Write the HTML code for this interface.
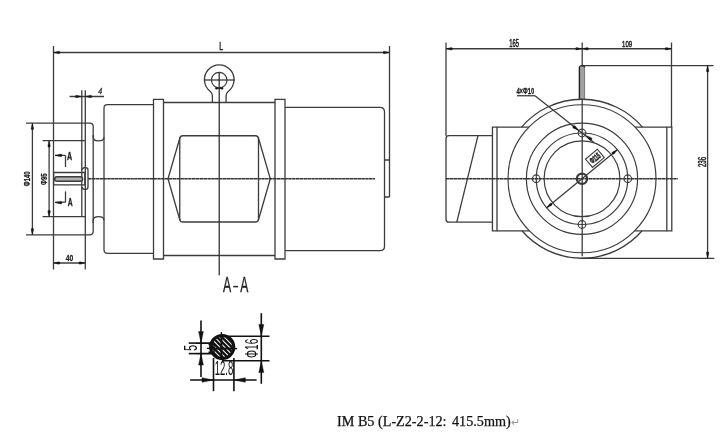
<!DOCTYPE html>
<html><head><meta charset="utf-8"><style>
html,body{margin:0;padding:0;background:#fff;}
body{width:728px;height:442px;overflow:hidden;font-family:"Liberation Sans",sans-serif;}
svg{display:block;will-change:transform;}
</style></head><body>
<svg width="728" height="442" viewBox="0 0 728 442">
<rect width="728" height="442" fill="#fff"/>
<line x1="53.5" y1="46" x2="53.5" y2="269.5" stroke="#3c3c3c" stroke-width="1.3" />
<line x1="389.5" y1="46" x2="389.5" y2="197" stroke="#3c3c3c" stroke-width="1.3" />
<line x1="53.5" y1="52.5" x2="389.5" y2="52.5" stroke="#3c3c3c" stroke-width="1.3" />
<path d="M53.50,52.50 L58.70,51.20 A1.3,1.3 0 1 1 58.70,53.80 Z" fill="#151515" stroke="#151515" stroke-width="0.3"/>
<path d="M389.50,52.50 L384.30,53.80 A1.3,1.3 0 1 1 384.30,51.20 Z" fill="#151515" stroke="#151515" stroke-width="0.3"/>
<text transform="translate(219.336,50.400) scale(0.07045,0.10580)" font-family="Liberation Sans" font-size="100" font-weight="normal" font-style="normal" fill="#222" stroke="#222" stroke-width="4.26" stroke-linejoin="round" >L</text>
<line x1="81.8" y1="90.3" x2="81.8" y2="216.7" stroke="#3c3c3c" stroke-width="1.3" />
<line x1="85.3" y1="90.3" x2="85.3" y2="269.5" stroke="#3c3c3c" stroke-width="1.3" />
<line x1="69.6" y1="96.5" x2="104" y2="96.5" stroke="#3c3c3c" stroke-width="1.3" />
<path d="M81.80,96.50 L76.60,97.80 A1.3,1.3 0 1 1 76.60,95.20 Z" fill="#151515" stroke="#151515" stroke-width="0.3"/>
<path d="M85.30,96.50 L90.50,95.20 A1.3,1.3 0 1 1 90.50,97.80 Z" fill="#151515" stroke="#151515" stroke-width="0.3"/>
<text transform="translate(98.329,94.193) scale(0.07059,0.09265)" font-family="Liberation Sans" font-size="100" font-weight="normal" font-style="italic" fill="#222" stroke="#222" stroke-width="3.54" stroke-linejoin="round" >4</text>
<path d="M26,123.2 L89.7,123.2 Q93.2,123.2 93.2,126.7 L93.2,231.3 Q93.2,234.8 89.7,234.8 L26,234.8" stroke="#3c3c3c" stroke-width="1.3" fill="none" />
<path d="M93.2,135 L93.2,137.2 C93.2,142 104,142 104,137.2" stroke="#3c3c3c" stroke-width="1.3" fill="none" />
<path d="M93.2,223 L93.2,220.3 C93.2,215.5 104,215.5 104,220.3" stroke="#3c3c3c" stroke-width="1.3" fill="none" />
<path d="M153.5,104.7 L107.5,104.7 Q104,104.7 104,108.2 L104,249.8 Q104,253.3 107.5,253.3 L153.5,253.3" stroke="#3c3c3c" stroke-width="1.3" fill="none" />
<path d="M153.5,99.3 L163.5,99.3 L163.5,259 L153.5,259 Z" stroke="#3c3c3c" stroke-width="1.3" fill="none" />
<line x1="163.5" y1="102.5" x2="275" y2="102.5" stroke="#3c3c3c" stroke-width="1.3" />
<line x1="163.5" y1="255.5" x2="275" y2="255.5" stroke="#3c3c3c" stroke-width="1.3" />
<path d="M275,99.3 L285,99.3 L285,259 L275,259 Z" stroke="#3c3c3c" stroke-width="1.3" fill="none" />
<path d="M285,107.4 L380,107.4 Q384.5,107.4 384.5,111.9 L384.5,246.2 Q384.5,250.7 380,250.7 L285,250.7" stroke="#3c3c3c" stroke-width="1.3" fill="none" />
<path d="M384.5,160 L389.5,160 M384.5,197 L389.5,197" stroke="#3c3c3c" stroke-width="1.3" fill="none" />
<path d="M179.75,139 Q179.75,135.75 183,135.75 L255.25,135.75 Q258.5,135.75 258.5,139 L258.5,218.75 Q258.5,222 255.25,222 L183,222 Q179.75,222 179.75,218.75 Z" stroke="#3c3c3c" stroke-width="1.3" fill="none" />
<path d="M180,137.5 L168,178.75 L180,220.5" stroke="#3c3c3c" stroke-width="1.3" fill="none" />
<path d="M258.3,137.5 L270.3,178.75 L258.3,220.5" stroke="#3c3c3c" stroke-width="1.3" fill="none" />
<circle cx="219.2" cy="80.1" r="7.8" stroke="#3c3c3c" stroke-width="1.2" fill="none"/>
<path d="M212.4,102.4 L212.4,95.8 Q212.4,93.3 210.6,91.7 A14.8,14.8 0 1 1 227.9,91.7 Q226.1,93.3 226.1,95.8 L226.1,102.4" stroke="#3c3c3c" stroke-width="1.3" fill="none" />
<line x1="203.8" y1="80" x2="235" y2="80" stroke="#3c3c3c" stroke-width="1.3" />
<line x1="219.2" y1="72.4" x2="219.2" y2="275.2" stroke="#2a2a2a" stroke-width="1.25" />
<path d="M219.20,88.30 L216.30,89.40 A1.1,1.1 0 1 1 216.30,87.20 Z" fill="#151515" stroke="#151515" stroke-width="0.3"/>
<path d="M219.20,88.30 L222.10,87.20 A1.1,1.1 0 1 1 222.10,89.40 Z" fill="#151515" stroke="#151515" stroke-width="0.3"/>
<line x1="88" y1="178.75" x2="375" y2="178.75" stroke="#333" stroke-width="1.3" stroke-dasharray="3.5 0.35"/>
<path d="M53.6,172.5 L84.8,172.5 L84.8,184.9 L53.6,184.9 Z" stroke="#3c3c3c" stroke-width="1.3" fill="none" />
<path d="M57,176.7 L80.3,176.7 A2.3,2.3 0 0 1 80.3,181.3 L57,181.3 A2.3,2.3 0 0 1 57,176.7 Z" stroke="#3c3c3c" stroke-width="1.5" fill="#b0b0b0" />
<path d="M82.3,170 Q82.3,167.7 84.6,167.7 L85.7,167.7 Q88,167.7 88,170 L88,187.1 Q88,189.4 85.7,189.4 L84.6,189.4 Q82.3,189.4 82.3,187.1" stroke="#3c3c3c" stroke-width="1.3" fill="none" />
<line x1="32.4" y1="123.2" x2="32.4" y2="234.8" stroke="#3c3c3c" stroke-width="1.3" />
<path d="M32.40,123.20 L33.70,128.40 A1.3,1.3 0 1 1 31.10,128.40 Z" fill="#151515" stroke="#151515" stroke-width="0.3"/>
<path d="M32.40,234.80 L31.10,229.60 A1.3,1.3 0 1 1 33.70,229.60 Z" fill="#151515" stroke="#151515" stroke-width="0.3"/>
<text transform="translate(29.806,186.177) rotate(-90) scale(0.05909,0.09437)" font-family="Liberation Sans" font-size="100" font-weight="bold" font-style="normal" fill="#222" stroke="#222" stroke-width="3.38" stroke-linejoin="round" >&#934;140</text>
<line x1="42.6" y1="140.7" x2="85.3" y2="140.7" stroke="#3c3c3c" stroke-width="1.3" />
<line x1="42.6" y1="216.7" x2="85.3" y2="216.7" stroke="#3c3c3c" stroke-width="1.3" />
<line x1="49.1" y1="140.7" x2="49.1" y2="216.7" stroke="#3c3c3c" stroke-width="1.3" />
<path d="M49.10,140.70 L50.40,145.90 A1.3,1.3 0 1 1 47.80,145.90 Z" fill="#151515" stroke="#151515" stroke-width="0.3"/>
<path d="M49.10,216.70 L47.80,211.50 A1.3,1.3 0 1 1 50.40,211.50 Z" fill="#151515" stroke="#151515" stroke-width="0.3"/>
<text transform="translate(46.610,184.980) rotate(-90) scale(0.06011,0.09014)" font-family="Liberation Sans" font-size="100" font-weight="bold" font-style="normal" fill="#222" stroke="#222" stroke-width="3.33" stroke-linejoin="round" >&#934;95</text>
<line x1="55" y1="155.4" x2="65.5" y2="155.4" stroke="#3c3c3c" stroke-width="1.3" />
<line x1="65.5" y1="155.4" x2="65.5" y2="167" stroke="#3c3c3c" stroke-width="1.3" />
<path d="M55.00,155.40 L60.70,154.10 A1.3,1.3 0 1 1 60.70,156.70 Z" fill="#151515" stroke="#151515" stroke-width="0.3"/>
<text transform="translate(66.986,159.810) scale(0.07121,0.11029)" font-family="Liberation Sans" font-size="100" font-weight="bold" font-style="normal" fill="#222" stroke="#222" stroke-width="2.81" stroke-linejoin="round" >A</text>
<line x1="55" y1="202.2" x2="65.5" y2="202.2" stroke="#3c3c3c" stroke-width="1.3" />
<line x1="65.5" y1="191.4" x2="65.5" y2="202.2" stroke="#3c3c3c" stroke-width="1.3" />
<path d="M55.00,202.70 L60.70,201.40 A1.3,1.3 0 1 1 60.70,204.00 Z" fill="#151515" stroke="#151515" stroke-width="0.3"/>
<text transform="translate(67.695,206.013) scale(0.06818,0.11324)" font-family="Liberation Sans" font-size="100" font-weight="bold" font-style="normal" fill="#222" stroke="#222" stroke-width="2.93" stroke-linejoin="round" >A</text>
<line x1="53.5" y1="263" x2="85.3" y2="263" stroke="#3c3c3c" stroke-width="1.3" />
<path d="M53.50,263.00 L58.70,261.70 A1.3,1.3 0 1 1 58.70,264.30 Z" fill="#151515" stroke="#151515" stroke-width="0.3"/>
<path d="M85.30,263.00 L80.10,264.30 A1.3,1.3 0 1 1 80.10,261.70 Z" fill="#151515" stroke="#151515" stroke-width="0.3"/>
<text transform="translate(65.665,260.904) scale(0.06762,0.09577)" font-family="Liberation Sans" font-size="100" font-weight="bold" font-style="normal" fill="#222" stroke="#222" stroke-width="2.96" stroke-linejoin="round" >40</text>
<text transform="translate(222.900,291.900) scale(0.12273,0.21594)" font-family="Liberation Sans" font-size="100" font-weight="normal" font-style="normal" fill="#222" stroke="#222" stroke-width="1.22" stroke-linejoin="round" >A</text>
<text transform="translate(240.300,291.900) scale(0.12121,0.21594)" font-family="Liberation Sans" font-size="100" font-weight="normal" font-style="normal" fill="#222" stroke="#222" stroke-width="1.24" stroke-linejoin="round" >A</text>
<line x1="233.2" y1="286.6" x2="238.1" y2="286.6" stroke="#222" stroke-width="1.5" />
<line x1="446" y1="42.5" x2="446" y2="136" stroke="#3c3c3c" stroke-width="1.3" />
<line x1="582.2" y1="42.5" x2="582.2" y2="256.3" stroke="#3c3c3c" stroke-width="1.3" />
<line x1="671.5" y1="42.5" x2="671.5" y2="127.3" stroke="#3c3c3c" stroke-width="1.3" />
<line x1="446" y1="48.75" x2="671.5" y2="48.75" stroke="#3c3c3c" stroke-width="1.3" />
<path d="M446.00,48.75 L451.20,47.45 A1.3,1.3 0 1 1 451.20,50.05 Z" fill="#151515" stroke="#151515" stroke-width="0.3"/>
<path d="M582.00,48.75 L576.80,50.05 A1.3,1.3 0 1 1 576.80,47.45 Z" fill="#151515" stroke="#151515" stroke-width="0.3"/>
<path d="M582.00,48.75 L587.20,47.45 A1.3,1.3 0 1 1 587.20,50.05 Z" fill="#151515" stroke="#151515" stroke-width="0.3"/>
<path d="M671.50,48.75 L666.30,50.05 A1.3,1.3 0 1 1 666.30,47.45 Z" fill="#151515" stroke="#151515" stroke-width="0.3"/>
<text transform="translate(509.230,46.799) scale(0.05871,0.10141)" font-family="Liberation Sans" font-size="100" font-weight="normal" font-style="normal" fill="#222" stroke="#222" stroke-width="5.11" stroke-linejoin="round" >165</text>
<text transform="translate(622.117,46.604) scale(0.06039,0.09577)" font-family="Liberation Sans" font-size="100" font-weight="normal" font-style="normal" fill="#222" stroke="#222" stroke-width="4.97" stroke-linejoin="round" >109</text>
<line x1="583" y1="65.6" x2="713.5" y2="65.6" stroke="#3c3c3c" stroke-width="1.3" />
<line x1="582" y1="258.3" x2="714.3" y2="258.3" stroke="#3c3c3c" stroke-width="1.3" />
<line x1="707.6" y1="65.6" x2="707.6" y2="258.3" stroke="#3c3c3c" stroke-width="1.3" />
<path d="M707.60,65.60 L708.90,70.80 A1.3,1.3 0 1 1 706.30,70.80 Z" fill="#151515" stroke="#151515" stroke-width="0.3"/>
<path d="M707.60,258.30 L706.30,253.10 A1.3,1.3 0 1 1 708.90,253.10 Z" fill="#151515" stroke="#151515" stroke-width="0.3"/>
<text transform="translate(705.690,167.109) rotate(-90) scale(0.06178,0.10986)" font-family="Liberation Sans" font-size="100" font-weight="normal" font-style="normal" fill="#222" stroke="#222" stroke-width="4.86" stroke-linejoin="round" >236</text>
<rect x="579.4" y="67" width="5.2" height="32" fill="#a2a2a2"/>
<line x1="584.6" y1="67.6" x2="584.6" y2="99" stroke="#777" stroke-width="1" />
<path d="M579.4,99 L579.4,67.6 Q579.4,65.6 582,65.6 Q584.6,65.6 584.6,67.6" stroke="#222" stroke-width="1.4" fill="none" />
<path d="M521.56,127.1 A79.5,79.5 0 0 1 642.44,127.1" stroke="#3c3c3c" stroke-width="1.3" fill="none" />
<path d="M521.91,230.8 A79.5,79.5 0 0 0 642.09,230.8" stroke="#3c3c3c" stroke-width="1.3" fill="none" />
<circle cx="582" cy="178.75" r="74" stroke="#3c3c3c" stroke-width="1.2" fill="none"/>
<circle cx="582" cy="178.75" r="55.6" stroke="#3c3c3c" stroke-width="1.2" fill="none"/>
<circle cx="582" cy="178.75" r="45.75" stroke="#3c3c3c" stroke-width="1.2" fill="none"/>
<circle cx="582" cy="178.75" r="37.9" stroke="#3c3c3c" stroke-width="1.2" fill="none"/>
<circle cx="627.75" cy="178.75" r="3.8" stroke="#3c3c3c" stroke-width="1.2" fill="none"/>
<circle cx="582.0" cy="133.0" r="3.8" stroke="#3c3c3c" stroke-width="1.2" fill="none"/>
<circle cx="536.25" cy="178.75" r="3.8" stroke="#3c3c3c" stroke-width="1.2" fill="none"/>
<circle cx="582.0" cy="224.5" r="3.8" stroke="#3c3c3c" stroke-width="1.2" fill="none"/>
<circle cx="582" cy="178.75" r="5.1" stroke="#3a3a3a" stroke-width="2.3" fill="none"/>
<path d="M492.45,127.1 L497.0,127.1 L497.0,230.8 L492.45,230.8 Z" stroke="#3c3c3c" stroke-width="1.3" fill="none" />
<line x1="497.0" y1="127.1" x2="529.01" y2="127.1" stroke="#3c3c3c" stroke-width="1.3" />
<line x1="497.0" y1="230.8" x2="529.4" y2="230.8" stroke="#3c3c3c" stroke-width="1.3" />
<path d="M666.8,127.1 L671.8,127.1 L671.8,230.8 L666.8,230.8 Z" stroke="#3c3c3c" stroke-width="1.3" fill="none" />
<line x1="634.99" y1="127.1" x2="666.8" y2="127.1" stroke="#3c3c3c" stroke-width="1.3" />
<line x1="634.6" y1="230.8" x2="666.8" y2="230.8" stroke="#3c3c3c" stroke-width="1.3" />
<path d="M492.45,135.7 L449,135.7 Q446,135.7 446,138.7 L446,219.2 Q446,222.2 449,222.2 L492.45,222.2" stroke="#3c3c3c" stroke-width="1.3" fill="none" />
<line x1="478" y1="135.7" x2="456.8" y2="222.2" stroke="#3c3c3c" stroke-width="1.3" />
<line x1="446" y1="178.75" x2="677.8" y2="178.75" stroke="#333" stroke-width="1.3" stroke-dasharray="3.5 0.35"/>
<line x1="546.7" y1="207.85" x2="617.3" y2="149.65" stroke="#3c3c3c" stroke-width="1.3" />
<path d="M546.70,207.85 L549.88,203.54 A1.3,1.3 0 1 1 551.54,205.55 Z" fill="#151515" stroke="#151515" stroke-width="0.3"/>
<path d="M617.30,149.65 L614.12,153.96 A1.3,1.3 0 1 1 612.46,151.95 Z" fill="#151515" stroke="#151515" stroke-width="0.3"/>
<g transform="translate(594.9,158.3) rotate(-40)"><rect x="-7.7" y="-5.4" width="15.4" height="10.8" fill="#fff" stroke="#3c3c3c" stroke-width="1.1"/></g>
<text transform="translate(595.000,158.200) rotate(-40) translate(-5.741,2.914) scale(0.04706,0.08571)" font-family="Liberation Sans" font-size="100" font-weight="bold" font-style="normal" fill="#222" stroke="#222" stroke-width="6.38" stroke-linejoin="round" >&#934;115</text>
<line x1="517" y1="95.75" x2="535" y2="95.75" stroke="#3c3c3c" stroke-width="1.3" />
<line x1="535" y1="95.75" x2="594" y2="142.5" stroke="#3c3c3c" stroke-width="1.3" />
<path d="M578.60,130.50 L573.36,128.26 A1.5,1.5 0 1 1 575.22,125.91 Z" fill="#151515" stroke="#151515" stroke-width="0.3"/>
<path d="M586.10,135.40 L591.34,137.64 A1.5,1.5 0 1 1 589.48,139.99 Z" fill="#151515" stroke="#151515" stroke-width="0.3"/>
<text transform="translate(516.384,93.704) scale(0.05814,0.09577)" font-family="Liberation Sans" font-size="100" font-weight="bold" font-style="normal" fill="#222" stroke="#222" stroke-width="3.44" stroke-linejoin="round" >4&#215;&#934;10</text>
<defs><clipPath id="cc"><circle cx="222.2" cy="347.1" r="10.5"/></clipPath></defs>
<g clip-path="url(#cc)"><line x1="173.39999999999998" y1="327.1" x2="213.39999999999998" y2="367.1" stroke="#111" stroke-width="2.4"/><line x1="178.2" y1="327.1" x2="218.2" y2="367.1" stroke="#111" stroke-width="2.4"/><line x1="183.0" y1="327.1" x2="223.0" y2="367.1" stroke="#111" stroke-width="2.4"/><line x1="187.79999999999998" y1="327.1" x2="227.79999999999998" y2="367.1" stroke="#111" stroke-width="2.4"/><line x1="192.6" y1="327.1" x2="232.6" y2="367.1" stroke="#111" stroke-width="2.4"/><line x1="197.39999999999998" y1="327.1" x2="237.39999999999998" y2="367.1" stroke="#111" stroke-width="2.4"/><line x1="202.2" y1="327.1" x2="242.2" y2="367.1" stroke="#111" stroke-width="2.4"/><line x1="207.0" y1="327.1" x2="247.0" y2="367.1" stroke="#111" stroke-width="2.4"/><line x1="211.79999999999998" y1="327.1" x2="251.79999999999998" y2="367.1" stroke="#111" stroke-width="2.4"/><line x1="216.6" y1="327.1" x2="256.59999999999997" y2="367.1" stroke="#111" stroke-width="2.4"/><line x1="221.39999999999998" y1="327.1" x2="261.4" y2="367.1" stroke="#111" stroke-width="2.4"/><line x1="226.2" y1="327.1" x2="266.2" y2="367.1" stroke="#111" stroke-width="2.4"/><line x1="231.0" y1="327.1" x2="271.0" y2="367.1" stroke="#111" stroke-width="2.4"/></g>
<line x1="210.2" y1="348.6" x2="234.2" y2="348.6" stroke="#111" stroke-width="2" />
<line x1="221.39999999999998" y1="335.1" x2="221.39999999999998" y2="359.1" stroke="#111" stroke-width="2" />
<circle cx="222.2" cy="347.1" r="11.6" stroke="#111" stroke-width="3" fill="none"/>
<path d="M196,343.1 L214,343.1 M196,353.6 L214,353.6" stroke="#111" stroke-width="1.6" fill="none" />
<path d="M208.5,344.5 L214,344.5 L214,352.2 L208.5,352.2" stroke="#111" stroke-width="1.4" fill="none" />
<line x1="207" y1="348.4" x2="213" y2="348.4" stroke="#111" stroke-width="1.4" />
<line x1="221.39999999999998" y1="332.1" x2="221.39999999999998" y2="335.1" stroke="#111" stroke-width="1.4" />
<line x1="234.2" y1="348.6" x2="237.2" y2="348.6" stroke="#111" stroke-width="1.4" />
<line x1="188.7" y1="343.1" x2="196" y2="343.1" stroke="#111" stroke-width="1.6" />
<line x1="188.7" y1="353.6" x2="196" y2="353.6" stroke="#111" stroke-width="1.6" />
<line x1="201" y1="320.4" x2="201" y2="377" stroke="#111" stroke-width="1.6" />
<path d="M201.00,343.10 L198.60,331.60 L203.40,331.60 Z" fill="#111" stroke="#111" stroke-width="0.4"/>
<path d="M201.00,353.60 L203.40,365.10 L198.60,365.10 Z" fill="#111" stroke="#111" stroke-width="0.4"/>
<text transform="translate(196.814,351.043) rotate(-90) scale(0.11064,0.18571)" font-family="Liberation Sans" font-size="100" font-weight="normal" font-style="normal" fill="#111"  >5</text>
<line x1="222" y1="336.2" x2="269.5" y2="336.2" stroke="#111" stroke-width="1.6" />
<line x1="222" y1="360.8" x2="269.5" y2="360.8" stroke="#111" stroke-width="1.6" />
<line x1="261.3" y1="313.2" x2="261.3" y2="383.8" stroke="#111" stroke-width="1.6" />
<path d="M261.30,336.20 L258.80,324.40 L263.80,324.40 Z" fill="#111" stroke="#111" stroke-width="0.4"/>
<path d="M261.30,360.80 L263.80,372.60 L258.80,372.60 Z" fill="#111" stroke="#111" stroke-width="0.4"/>
<text transform="translate(257.508,358.007) rotate(-90) scale(0.10110,0.19155)" font-family="Liberation Sans" font-size="100" font-weight="normal" font-style="normal" fill="#111"  >&#934;16</text>
<line x1="213.5" y1="358" x2="213.5" y2="391.2" stroke="#111" stroke-width="1.6" />
<line x1="233.9" y1="358" x2="233.9" y2="391.2" stroke="#111" stroke-width="1.6" />
<line x1="190.1" y1="380" x2="256.6" y2="380" stroke="#111" stroke-width="1.6" />
<path d="M213.50,380.00 L202.00,382.30 L202.00,377.70 Z" fill="#111" stroke="#111" stroke-width="0.4"/>
<path d="M233.90,380.00 L245.40,377.70 L245.40,382.30 Z" fill="#111" stroke="#111" stroke-width="0.4"/>
<text transform="translate(214.735,375.306) scale(0.09560,0.19437)" font-family="Liberation Sans" font-size="100" font-weight="normal" font-style="normal" fill="#111"  >12.8</text>
<text x="337" y="426" font-family="Liberation Serif" font-size="14.2" fill="#111" stroke="#111" stroke-width="0.25" xml:space="preserve">IM B5 (L-Z2-2-12:</text><text x="452" y="426" font-family="Liberation Serif" font-size="14.2" fill="#111" stroke="#111" stroke-width="0.25">415.5mm)</text><text x="510.5" y="426" font-family="Liberation Sans" font-size="11" fill="#999">&#8629;</text>
</svg>
</body></html>
